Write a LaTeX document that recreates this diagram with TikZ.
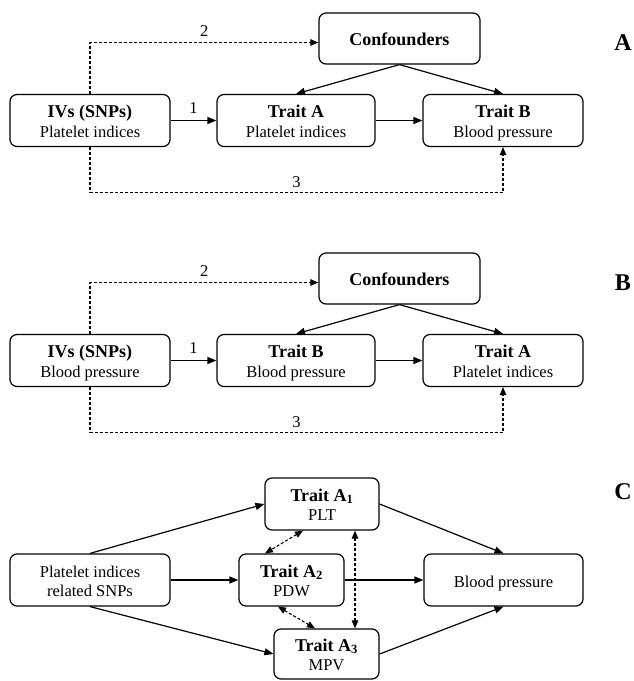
\documentclass[tikz,border=0pt]{standalone}
\usepackage{fontspec}
\setmainfont{Liberation Serif}
\usetikzlibrary{arrows.meta}
\newcommand{\hd}[1]{{\fontsize{18pt}{20pt}\selectfont\bfseries #1}}

\begin{document}
\begin{tikzpicture}
[every node/.style={inner sep=0pt, font=\fontsize{16.5pt}{19.5pt}\selectfont},
 box/.style={draw=black, line width=1.2pt, rounded corners=7pt, minimum height=52pt, align=center,
   text height=39pt, text depth=6pt},
 single/.style={text height=20.5pt},
 link/.style={line width=1.2pt, -{Triangle[length=9pt,width=7pt]}},
 dlink/.style={line width=1.1pt, dash pattern=on 3pt off 2pt, -{Triangle[length=8pt,width=6.5pt]}},
 ddlink/.style={dlink, {Triangle[length=8pt,width=6.5pt]}-{Triangle[length=8pt,width=6.5pt]}},
 panel/.style={font=\bfseries\fontsize{24pt}{28pt}\selectfont}]
\useasboundingbox (0pt,0pt) rectangle (633pt,-681pt);
\node (confA) [box, single, minimum width=161pt, minimum height=51pt] at (399.5pt, -38.5pt) {\hd{Confounders}};
\node (ivsA) [box, minimum width=160pt] at (90.0pt, -120.5pt) {\hd{IVs (SNPs)}\\Platelet indices};
\node (traitA) [box, minimum width=158pt] at (296.0pt, -120.5pt) {\hd{Trait A}\\Platelet indices};
\node (traitB) [box, minimum width=160pt] at (503.0pt, -120.5pt) {\hd{Trait B}\\Blood pressure};
\node (labA) [panel] at (623.0pt, -43.0pt) {A};
\draw [link] (ivsA) to node[above=6pt] {1} (traitA);
\draw [link] (traitA) to (traitB);
\draw [link] (confA.south) to (traitA.north);
\draw [link] (confA.south) to (traitB.north);
\draw [dlink] (ivsA.north) |- node[pos=0.75, above=5pt] {2} ([yshift=-4pt]confA.west);
\draw [dlink] (ivsA.south) |- node[pos=0.75, above=4pt] {3} ([yshift=-45.5pt]traitB.south) -- (traitB.south);
\node (confB) [box, single, minimum width=161pt, minimum height=51pt] at (399.5pt, -278.5pt) {\hd{Confounders}};
\node (ivsB) [box, minimum width=160pt] at (90.0pt, -360.5pt) {\hd{IVs (SNPs)}\\Blood pressure};
\node (traitBB) [box, minimum width=158pt] at (296.0pt, -360.5pt) {\hd{Trait B}\\Blood pressure};
\node (traitAB) [box, minimum width=160pt] at (503.0pt, -360.5pt) {\hd{Trait A}\\Platelet indices};
\node (labB) [panel] at (623.0pt, -283.0pt) {B};
\draw [link] (ivsB) to node[above=6pt] {1} (traitBB);
\draw [link] (traitBB) to (traitAB);
\draw [link] (confB.south) to (traitBB.north);
\draw [link] (confB.south) to (traitAB.north);
\draw [dlink] (ivsB.north) |- node[pos=0.75, above=5pt] {2} ([yshift=-4pt]confB.west);
\draw [dlink] (ivsB.south) |- node[pos=0.75, above=4pt] {3} ([yshift=-45.5pt]traitAB.south) -- (traitAB.south);
\node (snps) [box, minimum width=160pt] at (90.0pt, -580.0pt) {Platelet indices\\related SNPs};
\node (traitAone) [box, minimum width=114pt] at (322.0pt, -504.0pt) {\hd{Trait A\textsubscript{1}}\\PLT};
\node (traitAtwo) [box, minimum width=105pt] at (291.5pt, -580.0pt) {\hd{Trait A\textsubscript{2}}\\PDW};
\node (traitAthree) [box, minimum width=105pt, minimum height=50pt] at (326.5pt, -654.0pt) {\hd{Trait A\textsubscript{3}}\\MPV};
\node (bp) [box, single, minimum width=159pt] at (503.5pt, -580.0pt) {Blood pressure};
\node (labC) [panel] at (623.0pt, -492.0pt) {C};
\draw [link] (snps.north) to (traitAone.west);
\draw [link] (snps) to (traitAtwo);
\draw [link] (snps.south) to (traitAthree.west);
\draw [link] (traitAone.east) to (bp.north);
\draw [link] (traitAtwo) to (bp);
\draw [link] (traitAthree.east) to (bp.south);
\draw [ddlink] ([xshift=-19pt]traitAone.south) to ([xshift=-26.5pt]traitAtwo.north);
\draw [ddlink] ([xshift=-13.5pt]traitAtwo.south) to ([xshift=-11.5pt]traitAthree.north);
\draw [ddlink] ([xshift=33pt]traitAone.south) to ([xshift=28.5pt]traitAthree.north);
\end{tikzpicture}
\end{document}
